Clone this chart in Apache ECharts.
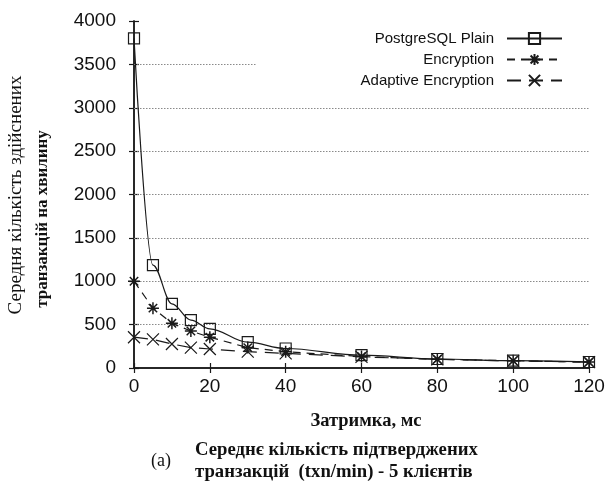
<!DOCTYPE html>
<html><head><meta charset="utf-8">
<script src="https://cdn.jsdelivr.net/npm/echarts@6/dist/echarts.min.js"></script>
<style>html,body{margin:0;padding:0;background:#fff}#c{width:610px;height:485px}</style>
</head><body><div id="c"></div>
<script>
// ---- data ----
const delays = [0, 5, 10, 15, 20, 30, 40, 60, 80, 100, 120];
const plain = [3800, 1187, 740, 553, 452, 298, 225, 148, 104, 84, 69];
const encryption = [1000, 690, 515, 427, 355, 235, 188, 132, 100, 84, 68];
const adaptive = [355, 330, 277, 235, 219, 188, 169, 128, 100, 82, 68];
const seriesNames = ['PostgreSQL Plain', 'Encryption', 'Adaptive Encryption'];
const xTicks = [0, 20, 40, 60, 80, 100, 120];
const yTicks = [0, 500, 1000, 1500, 2000, 2500, 3000, 3500, 4000];
const fullGridValues = [500, 1000, 1500, 2000, 2500, 3000];
const partialGridValue = 3500;
const partialGridEnd = 32.4;
const yTitle1 = 'Середня кількість здійснених';
const yTitle2 = 'транзакцій на хвилину';
const xTitle = 'Затримка, мс';
const caption1 = 'Середнє кількість підтверджених';
const caption2 = 'транзакцій  (txn/min) - 5 клієнтів';
const captionTag = '(a)';

// ---- chart ----
const pairs = arr => delays.map((d, i) => [d, arr[i]]);
const ink = '#1a1a1a';
const sans = '"Liberation Sans", Arial, sans-serif';
const serif = '"Liberation Serif", "Times New Roman", serif';

const starPath = 'path://M5 0L5 10M0 5L10 5M1.5 1.5L8.5 8.5M8.5 1.5L1.5 8.5';
const crossPath = 'path://M0 0L10 10M10 0L0 10';

const gridLineStyle = { color: '#8a8a8a', type: [1.5, 1.5], width: 1 };
const markData = fullGridValues.map(v => ({ yAxis: v }))
  .concat([[{ coord: [xTicks[0], partialGridValue] }, { coord: [partialGridEnd, partialGridValue] }]]);

const xMin = xTicks[0], xMax = xTicks[xTicks.length - 1];
const yMin = yTicks[0], yMax = yTicks[yTicks.length - 1];

const baseAxisLine = { show: true, lineStyle: { color: ink, width: 1.5 } };
const tick = { show: true, inside: true, length: 5, lineStyle: { color: ink, width: 1.2 } };
const plainNum = v => String(v);

function legendFor(name, top) {
  return {
    data: [name], right: 47, top: top, orient: 'vertical', align: 'right',
    itemWidth: 55, itemHeight: 14, padding: 0, selectedMode: false,
    textStyle: { fontFamily: sans, fontSize: 15, color: '#111', padding: [0, 8, 0, 0] }
  };
}

const option = {
  animation: false,
  backgroundColor: '#fff',
  grid: { left: 134, right: 21, top: 21, bottom: 117, containLabel: false },
  legend: [legendFor(seriesNames[0], 31), legendFor(seriesNames[1], 52), legendFor(seriesNames[2], 73)],
  xAxis: [
    { type: 'value', min: xMin, max: xMax, interval: 20, position: 'bottom',
      axisLine: baseAxisLine, axisTick: tick, splitLine: { show: false },
      axisLabel: { fontFamily: sans, fontSize: 19, color: '#111', margin: 9, formatter: plainNum } },
    { type: 'value', min: xMin, max: xMax, interval: 20, position: 'top',
      axisLine: baseAxisLine, axisTick: tick, splitLine: { show: false }, axisLabel: { show: false } }
  ],
  yAxis: [
    { type: 'value', min: yMin, max: yMax, interval: 500, position: 'left',
      axisLine: baseAxisLine, axisTick: tick, splitLine: { show: false },
      axisLabel: { fontFamily: sans, fontSize: 19, color: '#111', margin: 18, formatter: plainNum } },
    { type: 'value', min: yMin, max: yMax, interval: 500, position: 'right',
      axisLine: baseAxisLine, axisTick: tick, splitLine: { show: false }, axisLabel: { show: false } }
  ],
  series: [
    { name: seriesNames[0], type: 'line', data: pairs(plain), smooth: 0.35, smoothMonotone: 'x',
      symbol: 'rect', symbolSize: 11, showAllSymbol: true, z: 3,
      lineStyle: { color: ink, width: 1.2, type: 'solid' },
      itemStyle: { color: 'rgba(0,0,0,0)', borderColor: ink, borderWidth: 1.2 },
      markLine: { silent: true, symbol: 'none', z: 1, label: { show: false },
        lineStyle: gridLineStyle, emphasis: { disabled: true }, data: markData } },
    { name: seriesNames[1], type: 'line', data: pairs(encryption),
      symbol: starPath, symbolSize: 12, showAllSymbol: true, z: 4,
      lineStyle: { color: ink, width: 1.2, type: [8, 6] },
      itemStyle: { color: 'rgba(0,0,0,0)', borderColor: ink, borderWidth: 1.5 } },
    { name: seriesNames[2], type: 'line', data: pairs(adaptive),
      symbol: crossPath, symbolSize: 12, showAllSymbol: true, z: 5,
      lineStyle: { color: ink, width: 1.2, type: [14, 8] },
      itemStyle: { color: 'rgba(0,0,0,0)', borderColor: ink, borderWidth: 1.2 } }
  ],
  graphic: [
    { type: 'text', x: 16, y: 195, rotation: Math.PI / 2,
      style: { text: yTitle1, font: 'normal 19px ' + serif, fill: '#111', textAlign: 'center', textVerticalAlign: 'middle' } },
    { type: 'text', x: 43, y: 219, rotation: Math.PI / 2,
      style: { text: yTitle2, font: 'bold 17px ' + serif, fill: '#111', textAlign: 'center', textVerticalAlign: 'middle' } },
    { type: 'text', x: 366, y: 421,
      style: { text: xTitle, font: 'bold 18.5px ' + serif, fill: '#111', textAlign: 'center', textVerticalAlign: 'middle' } },
    { type: 'text', x: 161, y: 461,
      style: { text: captionTag, font: 'normal 18px ' + serif, fill: '#111', textAlign: 'center', textVerticalAlign: 'middle' } },
    { type: 'text', x: 195, y: 450,
      style: { text: caption1, font: 'bold 18.7px ' + serif, fill: '#111', textAlign: 'left', textVerticalAlign: 'middle' } },
    { type: 'text', x: 195, y: 472,
      style: { text: caption2, font: 'bold 18.7px ' + serif, fill: '#111', textAlign: 'left', textVerticalAlign: 'middle' } }
  ]
};

const chart = echarts.init(document.getElementById('c'), null, { renderer: 'canvas' });
chart.setOption(option);
</script>
</body></html>
